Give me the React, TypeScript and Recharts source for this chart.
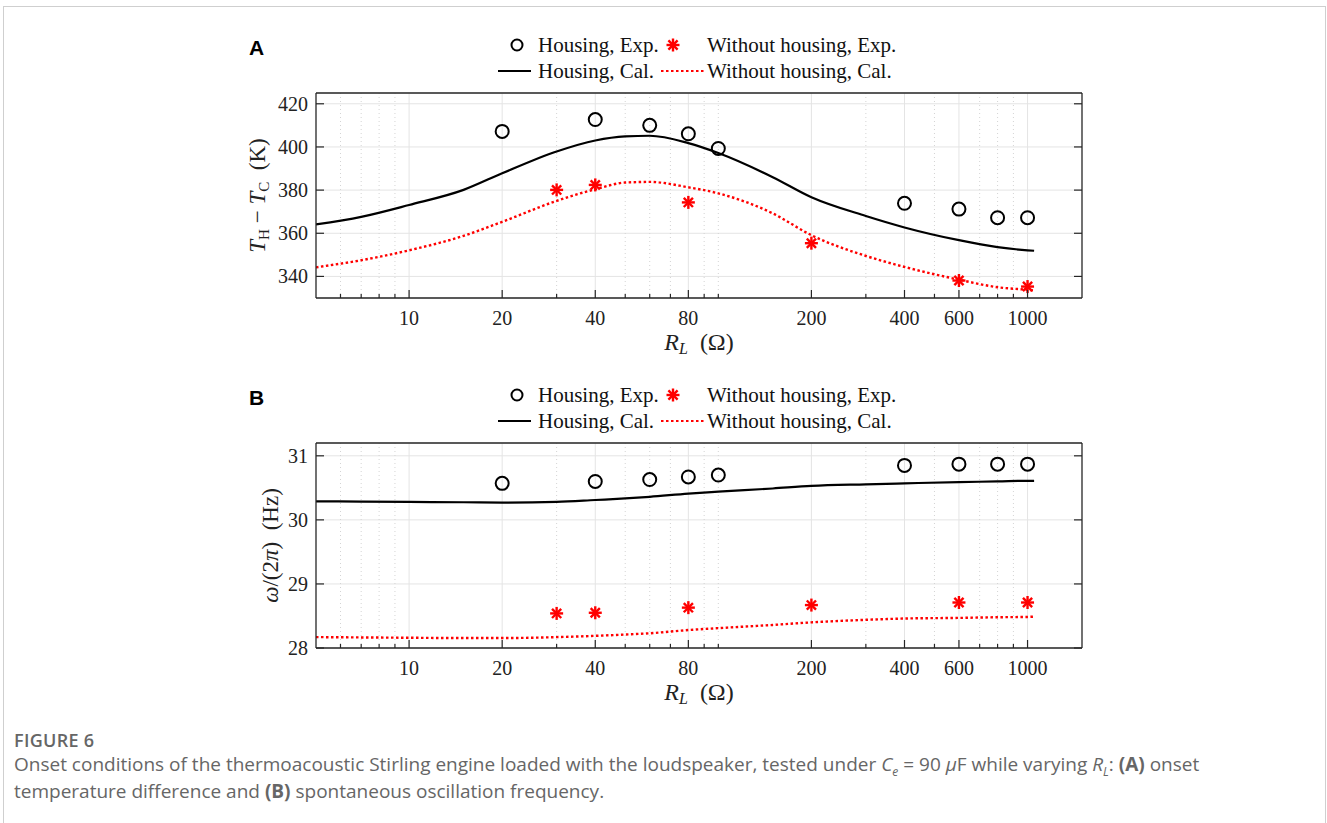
import React from "react";
import {
  ComposedChart,
  Line,
  Scatter,
  XAxis,
  YAxis,
  CartesianGrid,
  ReferenceLine,
} from "recharts";

// R_L (Ω) tick values on the log axis
const majorTicks = [10, 20, 40, 80, 200, 400, 600, 1000];
const minorTicks = [6, 7, 8, 9, 30, 50, 60, 70, 90, 100, 300, 500, 700, 800, 900];

// experimental loads
const rHousingExp = [20, 40, 60, 80, 100, 400, 600, 800, 1000];
const rWithoutExp = [30, 40, 80, 200, 600, 1000];
// calculated curve loads
const rCal = [5, 7, 10, 15, 20, 30, 40, 50, 60, 80, 100, 150, 200, 300, 400, 600, 800, 1000, 1050];

// (A) onset temperature difference, K
const dTHousingExp = [407.2, 412.7, 410.0, 406.1, 399.3, 373.9, 371.2, 367.2, 367.2];
const dTWithoutExp = [380.1, 382.4, 374.3, 355.4, 338.1, 335.3];
const dTHousingCal = [364.1, 367.6, 373.1, 380.1, 387.8, 397.9, 403.0, 404.9, 405.2, 401.8, 397.2, 386.0, 376.7, 368.0, 362.7, 356.8, 353.6, 352.1, 351.9];
const dTWithoutCal = [344.2, 347.5, 352.1, 358.8, 365.3, 375.0, 380.4, 383.5, 383.8, 381.3, 378.5, 369.2, 359.1, 349.5, 344.4, 338.5, 335.0, 333.8, 333.5];
const dTTicks = [340, 360, 380, 400, 420];

// (B) oscillation frequency, Hz
const fHousingExp = [30.57, 30.6, 30.63, 30.67, 30.7, 30.85, 30.87, 30.87, 30.87];
const fWithoutExp = [28.54, 28.55, 28.63, 28.67, 28.71, 28.71];
const fHousingCal = [30.29, 30.285, 30.28, 30.275, 30.27, 30.28, 30.31, 30.335, 30.36, 30.41, 30.44, 30.49, 30.53, 30.555, 30.57, 30.59, 30.6, 30.61, 30.61];
const fWithoutCal = [28.17, 28.165, 28.16, 28.155, 28.155, 28.17, 28.19, 28.21, 28.23, 28.28, 28.31, 28.36, 28.4, 28.44, 28.46, 28.47, 28.48, 28.485, 28.49];
const fTicks = [28, 29, 30, 31];

const pair = (xs: number[], ys: number[]) => xs.map((x, i) => ({ x, y: ys[i] }));

const SERIF = "'Liberation Serif', 'Times New Roman', serif";
const serif = { fontFamily: SERIF };
const AX = "#262626";

function XTick(props: any) {
  const { x, y, payload, side } = props;
  const major = majorTicks.includes(payload.value);
  const len = major ? 8 : 4;
  const dir = side === "top" ? 1 : -1;
  return (
    <g>
      <line x1={x} y1={y} x2={x} y2={y + dir * len} stroke={AX} strokeWidth={1.2} />
      {side !== "top" && major && (
        <text x={x} y={y + 27} textAnchor="middle" style={serif} fontSize={20} fill="#222">
          {payload.value}
        </text>
      )}
    </g>
  );
}

function YTick(props: any) {
  const { x, y, payload, side } = props;
  const dir = side === "right" ? -1 : 1;
  return (
    <g>
      <line x1={x} y1={y} x2={x + dir * 8} y2={y} stroke={AX} strokeWidth={1.2} />
      {side !== "right" && (
        <text x={x - 8} y={y + 7} textAnchor="end" style={serif} fontSize={20} fill="#222">
          {payload.value}
        </text>
      )}
    </g>
  );
}

const Ring = (p: any) => (
  <circle cx={p.cx} cy={p.cy} r={6.5} fill="none" stroke="#000" strokeWidth={2} />
);

const Star = (p: any) => {
  const r = 6.5;
  const d = r * 0.7071;
  return (
    <g stroke="#ff0000" strokeWidth={2.4} strokeLinecap="butt">
      <line x1={p.cx - r} y1={p.cy} x2={p.cx + r} y2={p.cy} />
      <line x1={p.cx} y1={p.cy - r} x2={p.cx} y2={p.cy + r} />
      <line x1={p.cx - d} y1={p.cy - d} x2={p.cx + d} y2={p.cy + d} />
      <line x1={p.cx - d} y1={p.cy + d} x2={p.cx + d} y2={p.cy - d} />
    </g>
  );
};

function XLabel({ viewBox }: any) {
  const cx = viewBox.x + viewBox.width / 2;
  return (
    <text x={cx} y={viewBox.y + 52} textAnchor="middle" style={serif} fontSize={24} fill="#222">
      <tspan fontStyle="italic">R</tspan>
      <tspan fontStyle="italic" fontSize={16} dy={4}>L</tspan>
      <tspan dy={-4}>{"\u2002(Ω)"}</tspan>
    </text>
  );
}

function Panel({
  top,
  letter,
  yDomain,
  yTicks,
  housingExp,
  withoutExp,
  housingCal,
  withoutCal,
  yLabel,
  yLabelGap,
}: any) {
  return (
    <div style={{ position: "absolute", left: 0, top, width: 1327, height: 360 }}>
      <svg width={1327} height={90} style={{ position: "absolute", left: 0, top: 0 }}>
        <text x={249} y={55} fontFamily="'Liberation Sans', Arial, sans-serif" fontWeight="bold" fontSize={21}>
          {letter}
        </text>
        <circle cx={517} cy={45} r={5.5} fill="none" stroke="#000" strokeWidth={2} />
        <text x={538} y={52} style={serif} fontSize={21} fill="#111">Housing, Exp.</text>
        <Star cx={673} cy={45} />
        <text x={707} y={52} style={serif} fontSize={21} fill="#111">Without housing, Exp.</text>
        <line x1={498} y1={71} x2={531} y2={71} stroke="#000" strokeWidth={2.2} />
        <text x={538} y={78} style={serif} fontSize={21} fill="#111">Housing, Cal.</text>
        <line x1={661} y1={71} x2={705} y2={71} stroke="#ff0000" strokeWidth={2.2} strokeDasharray="2.5 2.5" />
        <text x={707} y={78} style={serif} fontSize={21} fill="#111">Without housing, Cal.</text>
      </svg>
      <div style={{ position: "absolute", left: 0, top: 0 }}>
        <ComposedChart
          width={1327}
          height={360}
          margin={{ top: 83, right: 235, bottom: 12, left: 256 }}
        >
          <CartesianGrid vertical={false} stroke="#e4e4e4" strokeWidth={1} />
          {majorTicks.map((v) => (
            <ReferenceLine key={"M" + v} x={v} stroke="#e4e4e4" strokeWidth={1} ifOverflow="hidden" />
          ))}
          {minorTicks.map((v) => (
            <ReferenceLine key={"m" + v} x={v} stroke="#d4d4d4" strokeWidth={1} strokeDasharray="1 3" ifOverflow="hidden" />
          ))}
          <XAxis
            dataKey="x"
            type="number"
            scale="log"
            domain={[5, 1500]}
            allowDataOverflow
            ticks={[...majorTicks, ...minorTicks]}
            interval={0}
            tickSize={0}
            tickMargin={0}
            tickLine={false}
            height={50}
            axisLine={{ stroke: AX, strokeWidth: 1.3 }}
            tick={<XTick side="bottom" />}
            label={{ content: XLabel } as any}
          />
          <XAxis
            xAxisId="top"
            orientation="top"
            type="number"
            scale="log"
            domain={[5, 1500]}
            allowDataOverflow
            ticks={[...majorTicks, ...minorTicks]}
            interval={0}
            tickSize={0}
            tickMargin={0}
            tickLine={false}
            height={10}
            axisLine={{ stroke: AX, strokeWidth: 1.3 }}
            tick={<XTick side="top" />}
          />
          <YAxis
            dataKey="y"
            type="number"
            domain={yDomain}
            allowDataOverflow
            ticks={yTicks}
            interval={0}
            tickSize={0}
            tickMargin={0}
            tickLine={false}
            width={60}
            axisLine={{ stroke: AX, strokeWidth: 1.3 }}
            tick={<YTick side="left" />}
            label={{
              content: ({ viewBox }: any) => {
                const cx = viewBox.x + viewBox.width - yLabelGap;
                const cy = viewBox.y + viewBox.height / 2;
                return (
                  <text
                    x={cx}
                    y={cy}
                    transform={`rotate(-90 ${cx} ${cy})`}
                    textAnchor="middle"
                    style={serif}
                    fontSize={23}
                    fill="#222"
                  >
                    {yLabel}
                  </text>
                );
              },
            } as any}
          />
          <YAxis
            yAxisId="right"
            orientation="right"
            type="number"
            domain={yDomain}
            allowDataOverflow
            ticks={yTicks}
            interval={0}
            tickSize={0}
            tickMargin={0}
            tickLine={false}
            width={10}
            axisLine={{ stroke: AX, strokeWidth: 1.3 }}
            tick={<YTick side="right" />}
          />
          <Line
            data={housingCal}
            dataKey="y"
            type="monotone"
            stroke="#000"
            strokeWidth={2.2}
            dot={false}
            isAnimationActive={false}
          />
          <Line
            data={withoutCal}
            dataKey="y"
            type="monotone"
            stroke="#ff0000"
            strokeWidth={2.4}
            strokeDasharray="2.5 2.5"
            dot={false}
            isAnimationActive={false}
          />
          <Scatter data={housingExp} dataKey="y" shape={Ring} isAnimationActive={false} />
          <Scatter data={withoutExp} dataKey="y" shape={Star} isAnimationActive={false} />
        </ComposedChart>
      </div>
    </div>
  );
}

const subStyle: React.CSSProperties = {
  fontSize: 12,
  position: "relative",
  top: 5,
  lineHeight: 0,
  fontStyle: "italic",
};

const captionLine: React.CSSProperties = { fontSize: 19, lineHeight: "27px", whiteSpace: "nowrap" };

export default function App() {
  return (
    <div style={{ position: "absolute", left: 0, top: 0, width: 1327, height: 823, background: "#fff", overflow: "hidden" }}>
      <div
        style={{
          position: "absolute",
          left: 3,
          top: 6,
          width: 1323,
          height: 840,
          border: "1px solid #cfcfcf",
          boxSizing: "border-box",
        }}
      />
      <Panel
        top={0}
        letter="A"
        yDomain={[330, 425]}
        yTicks={dTTicks}
        housingExp={pair(rHousingExp, dTHousingExp)}
        withoutExp={pair(rWithoutExp, dTWithoutExp)}
        housingCal={pair(rCal, dTHousingCal)}
        withoutCal={pair(rCal, dTWithoutCal)}
        yLabelGap={51}
        yLabel={
          <>
            <tspan fontStyle="italic">T</tspan>
            <tspan fontSize={15} dy={4}>H</tspan>
            <tspan dy={-4}>{" − "}</tspan>
            <tspan fontStyle="italic">T</tspan>
            <tspan fontSize={15} dy={4}>C</tspan>
            <tspan dy={-4}>{"\u2002(K)"}</tspan>
          </>
        }
      />
      <Panel
        top={350}
        letter="B"
        yDomain={[28, 31.2]}
        yTicks={fTicks}
        housingExp={pair(rHousingExp, fHousingExp)}
        withoutExp={pair(rWithoutExp, fWithoutExp)}
        housingCal={pair(rCal, fHousingCal)}
        withoutCal={pair(rCal, fWithoutCal)}
        yLabelGap={38}
        yLabel={
          <>
            <tspan fontStyle="italic">ω</tspan>
            <tspan>{"/(2"}</tspan>
            <tspan fontStyle="italic">π</tspan>
            <tspan>{")\u2002(Hz)"}</tspan>
          </>
        }
      />
      <div
        style={{
          position: "absolute",
          left: 14,
          top: 728,
          width: 1250,
          fontFamily: "'Open Sans', 'Noto Sans', sans-serif",
          color: "#666",
        }}
      >
        <div style={{ fontSize: 18, fontWeight: 600, lineHeight: "24px", letterSpacing: 0.3 }}>FIGURE 6</div>
        <div style={{ ...captionLine, marginTop: -1 }}>
          Onset conditions of the thermoacoustic Stirling engine loaded with the loudspeaker, tested under{" "}
          <i>C</i>
          <span style={subStyle}>e</span> = 90 <i>μ</i>F while varying <i>R</i>
          <span style={subStyle}>L</span>: <b>(A)</b> onset
        </div>
        <div style={captionLine}>
          temperature difference and <b>(B)</b> spontaneous oscillation frequency.
        </div>
      </div>
    </div>
  );
}
